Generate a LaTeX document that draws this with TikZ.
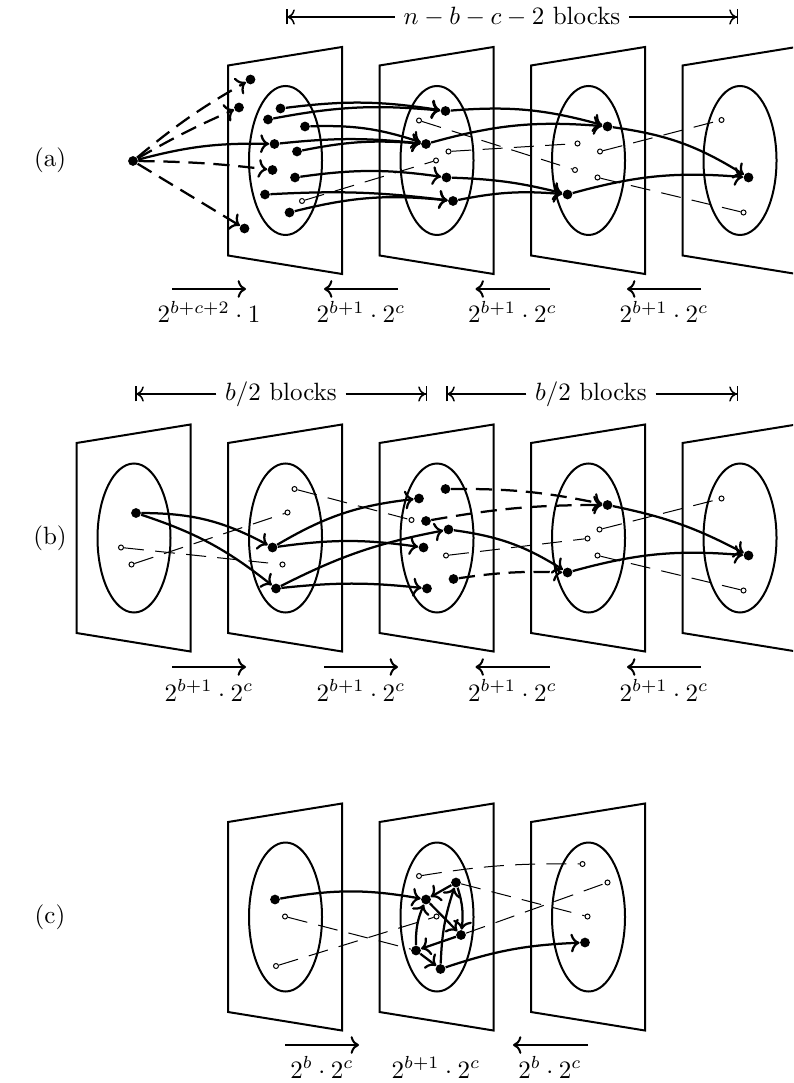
\documentclass[tikz,border=0pt]{standalone}
\usetikzlibrary{arrows.meta}

\tikzstyle{dot} = [circle, fill, inner sep=0pt, minimum size=3.9pt]
\tikzstyle{hole} = [circle, draw, fill=white, line width=0.4pt, inner sep=0pt, minimum size=2pt]
\tikzstyle{plane} = [line width=0.8pt]
\tikzstyle{move} = [->, line width=0.9pt]
\tikzstyle{jump} = [->, line width=0.9pt, dash pattern=on 6.5pt off 3.5pt]
\tikzstyle{link} = [line width=0.4pt, dash pattern=on 8pt off 4.5pt]
\tikzstyle{flow} = [->, line width=0.8pt]
\tikzstyle{span} = [-{To[]Bar[width=6pt]}, line width=0.6pt]

\begin{document}
\begin{tikzpicture}[x=0.4pt, y=-0.4pt]
\clip (0,0) rectangle (793,1083);

% ---------------- (a)
\node at (50,160) {(a)};
\node[fill=white] (hA) at (512,17) {$n-b-c-2$ blocks};
\coordinate (hA1) at (286,17);
\coordinate (hA2) at (738,17);
\draw[span] (hA.west) -- (hA1);
\draw[span] (hA.east) -- (hA2);

\foreach \x in {228,379.5,531,682.5}
    \draw[plane] (\x,65.5) -- ++(114,-18.5) -- ++(0,227) -- ++(-114,-18.5) -- cycle
        (\x+57.5,160.5) ellipse (36.5 and 74.5);

\node[dot] (src) at (133,161) {};
\node[dot] (d1) at (250.5,79.5) {};
\node[dot] (d2) at (239,107.5) {};
\node[dot] (d3) at (244.5,228.5) {};
\node[dot] (e1) at (280.5,108.5) {};
\node[dot] (e2) at (268,119.5) {};
\node[dot] (e3) at (305,126.5) {};
\node[dot] (e4) at (274.5,144) {};
\node[dot] (e5) at (297,151.5) {};
\node[dot] (e6) at (272.5,170) {};
\node[dot] (e7) at (295,177.5) {};
\node[dot] (e8) at (265,194.5) {};
\node[hole] (e0) at (302,201) {};
\node[dot] (e9) at (289.5,212.5) {};

\node[dot] (f1) at (445.5,111) {};
\node[hole] (f2) at (419,120.5) {};
\node[dot] (f3) at (426,144) {};
\node[hole] (f4) at (448.5,151.5) {};
\node[hole] (f5) at (436,160.5) {};
\node[dot] (f6) at (446.5,177.5) {};
\node[dot] (f7) at (453,201) {};

\node[dot] (g1) at (607.5,126.5) {};
\node[hole] (g2) at (577.5,143.5) {};
\node[hole] (g3) at (600,151.5) {};
\node[hole] (g4) at (575,170) {};
\node[hole] (g5) at (597.5,177.5) {};
\node[dot] (g6) at (567.5,194.5) {};

\node[hole] (h1) at (721.5,120) {};
\node[dot] (h2) at (748.5,177.5) {};
\node[hole] (h3) at (743.5,212.5) {};

\draw[link] (e0) -- (f5);
\draw[link] (f2) -- (g4);
\draw[link] (f4) -- (g2);
\draw[link] (g3) -- (h1);
\draw[link] (g5) -- (h3);

\draw[jump] (src) to[bend left=5] (d1);
\draw[jump] (src) to[bend left=3] (d2);
\draw[jump] (src) to[bend left=3] (e6);
\draw[jump] (src) -- (d3);
\draw[move] (src) to[bend left=8] (e4);

\draw[move] (e1) to[bend left=8] (f1);
\draw[move] (e2) to[bend left=8] (f1);
\draw[move] (e3) to[bend left=10] (f3);
\draw[move] (e4) to[bend left=6] (f3);
\draw[move] (e5) to[bend left=8] (f3);
\draw[move] (e7) to[bend left=8] (f6);
\draw[move] (e8) to[bend left=5] (f7);
\draw[move] (e9) to[bend left=10] (f7);

\draw[move] (f1) to[bend left=10] (g1);
\draw[move] (f3) to[bend left=10] (g1);
\draw[move] (f6) to[bend left=6] (g6);
\draw[move] (f7) to[bend left=8] (g6);
\draw[move] (g1) to[bend left=12] (h2);
\draw[move] (g6) to[bend left=10] (h2);

\foreach \a/\b in {172/246,398/324,549.5/475.5,701/627}
    \draw[flow] (\a,289) -- (\b,289);
\node[anchor=base] at (209,323) {$2^{b+c+2}\cdot 1$};
\node[anchor=base] at (361,323) {$2^{b+1}\cdot 2^c$};
\node[anchor=base] at (512.5,323) {$2^{b+1}\cdot 2^c$};
\node[anchor=base] at (664,323) {$2^{b+1}\cdot 2^c$};

% ---------------- (b)
\node at (50,538) {(b)};
\node[fill=white] (hB) at (281,394) {$b/2$ blocks};
\coordinate (hB1) at (135,394);
\coordinate (hB2) at (427,394);
\draw[span] (hB.west) -- (hB1);
\draw[span] (hB.east) -- (hB2);
\node[fill=white] (hC) at (591,394) {$b/2$ blocks};
\coordinate (hC1) at (446,394);
\coordinate (hC2) at (738,394);
\draw[span] (hC.west) -- (hC1);
\draw[span] (hC.east) -- (hC2);

\foreach \x in {76.5,228,379.5,531,682.5}
    \draw[plane] (\x,443) -- ++(114,-18.5) -- ++(0,227) -- ++(-114,-18.5) -- cycle
        (\x+57.5,538) ellipse (36.5 and 74.5);

\node[dot] (p1) at (136,513) {};
\node[hole] (p2) at (121,547.5) {};
\node[hole] (p3) at (131.5,564.5) {};

\node[hole] (q1) at (294.5,489) {};
\node[hole] (q2) at (287.5,512.5) {};
\node[dot] (q3) at (272.5,547.5) {};
\node[hole] (q4) at (282.5,564.5) {};
\node[dot] (q5) at (276,588.5) {};

\node[dot] (r0) at (445.5,489) {};
\node[dot] (r1) at (419,498.5) {};
\node[hole] (r2) at (411.5,520) {};
\node[dot] (r3) at (426,521) {};
\node[dot] (r4) at (448.5,529.5) {};
\node[dot] (r5) at (423.5,547.5) {};
\node[hole] (r6) at (446,555.5) {};
\node[dot] (r7) at (453.5,579) {};
\node[dot] (r8) at (427,588.5) {};

\node[dot] (s1) at (607.5,505) {};
\node[hole] (s2) at (599.5,529.5) {};
\node[hole] (s3) at (587.5,538.5) {};
\node[hole] (s4) at (597.5,555.5) {};
\node[dot] (s5) at (567.5,572.5) {};

\node[hole] (t1) at (721.5,498.5) {};
\node[dot] (t2) at (748.5,555.5) {};
\node[hole] (t3) at (743.5,590.5) {};

\draw[link] (p2) -- (q4);
\draw[link] (p3) -- (q2);
\draw[link] (q1) -- (r2);
\draw[link] (r6) -- (s3);
\draw[link] (s2) -- (t1);
\draw[link] (s4) -- (t3);

\draw[move] (p1) to[bend left=14] (q3);
\draw[move] (p1) to[bend left=10] (q5);
\draw[move] (q3) to[bend left=12] (r1);
\draw[move] (q3) to[bend left=8] (r5);
\draw[move] (q5) to[bend left=8] (r4);
\draw[move] (q5) to[bend left=6] (r8);
\draw[jump] (r0) to[bend left=6] (s1);
\draw[jump] (r3) to[bend left=5] (s1);
\draw[jump] (r7) to[bend left=5] (s5);
\draw[move] (r4) to[bend left=12] (s5);
\draw[move] (s1) to[bend left=8] (t2);
\draw[move] (s5) to[bend left=10] (t2);

\foreach \a/\b in {172/246,324/398,549.5/475.5,701/627}
    \draw[flow] (\a,667) -- (\b,667);
\node[anchor=base] at (209,701) {$2^{b+1}\cdot 2^c$};
\node[anchor=base] at (361,701) {$2^{b+1}\cdot 2^c$};
\node[anchor=base] at (512.5,701) {$2^{b+1}\cdot 2^c$};
\node[anchor=base] at (664,701) {$2^{b+1}\cdot 2^c$};

% ---------------- (c)
\node at (50,917) {(c)};

\foreach \x in {228,379.5,531}
    \draw[plane] (\x,822) -- ++(114,-18.5) -- ++(0,227) -- ++(-114,-18.5) -- cycle
        (\x+57.5,917) ellipse (36.5 and 74.5);

\node[dot] (u1) at (275,899.5) {};
\node[hole] (u2) at (285,916.5) {};
\node[hole] (u3) at (276,966) {};

\node[hole] (v1) at (419,876) {};
\node[dot] (v2) at (456,882.5) {};
\node[dot] (v3) at (426,899.5) {};
\node[hole] (v4) at (436.5,916.5) {};
\node[dot] (v5) at (461,935) {};
\node[dot] (v6) at (416,950.5) {};
\node[dot] (v7) at (440.5,969) {};

\node[hole] (w1) at (582.5,864) {};
\node[hole] (w2) at (607.5,882.5) {};
\node[hole] (w3) at (587.5,916.5) {};
\node[dot] (w4) at (585,942.5) {};

\draw[link] (u2) -- (v6);
\draw[link] (u3) -- (v4);
\draw[link] (v1) to[bend left=5] (w1);
\draw[link] (v2) -- (w3);
\draw[link] (v5) -- (w2);

\draw[move] (u1) to[bend left=10] (v3);
\draw[move] (v2) -- (v3);
\draw[move] (v3) -- (v5);
\draw[move] (v2) to[bend left=12] (v5);
\draw[move] (v5) -- (v6);
\draw[move] (v6) to[bend left=12] (v3);
\draw[move] (v6) -- (v7);
\draw[move] (v7) to[bend left=8] (v2);
\draw[move] (v7) to[bend left=8] (w4);

\draw[flow] (285,1045) -- (359,1045);
\draw[flow] (588,1045) -- (513,1045);
\node[anchor=base] at (322,1078) {$2^b\cdot 2^c$};
\node[anchor=base] at (436,1078) {$2^{b+1}\cdot 2^c$};
\node[anchor=base] at (550,1078) {$2^b\cdot 2^c$};
\end{tikzpicture}
\end{document}
